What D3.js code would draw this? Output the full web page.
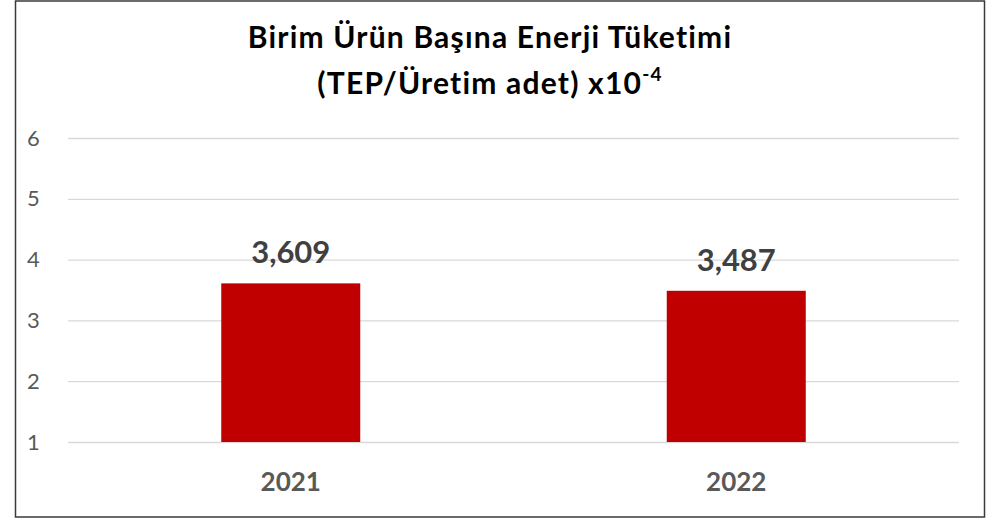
<!DOCTYPE html>
<html>
<head>
<meta charset="utf-8">
<script src="https://cdn.jsdelivr.net/npm/d3@7"></script>
<style>
  body { margin: 0; background: #fff; }
  svg { display: block; font-family: Lato, "Open Sans", sans-serif; }
</style>
</head>
<body>
<div id="chart"></div>
<script>
// data
const years = ['2021', '2022']
const values = [3.609, 3.487]
const valueLabels = ['3,609', '3,487']
const yTicks = [1, 2, 3, 4, 5, 6]

const width = 987, height = 519
const margin = {top: 138, right: 28, bottom: 77, left: 68}

const svg = d3.select('#chart')
  .append('svg')
  .attr('width', width)
  .attr('height', height)

// frame
svg.append('rect')
  .attr('x', 15.5)
  .attr('y', 1)
  .attr('width', 969)
  .attr('height', 516)
  .attr('fill', '#fff')
  .attr('stroke', '#3a3a3a')
  .attr('stroke-width', 1.5)

const x = d3.scaleBand()
  .domain(years)
  .range([margin.left, width - margin.right])
  .paddingInner(0.688)
  .paddingOuter(0.344)

const y = d3.scaleLinear()
  .domain([1, 6])
  .range([height - margin.bottom, margin.top])

// gridlines + tick labels
const yAxis = d3.axisLeft(y)
  .tickValues(yTicks)
  .tickSize(-(width - margin.right - margin.left))
  .tickFormat(d3.format('d'))

svg.append('g')
  .attr('transform', `translate(${margin.left},0)`)
  .call(yAxis)
  .call(g => g.select('.domain').remove())
  .call(g => g.selectAll('.tick line').attr('stroke', '#d9d9d9').attr('stroke-width', 1.3))
  .call(g => g.selectAll('.tick text')
    .attr('fill', '#595959')
    .attr('font-size', 22)
    .attr('font-family', 'Lato, sans-serif')
    .attr('text-anchor', 'start')
    .attr('x', -41))

// bars
svg.selectAll('rect.bar')
  .data(values)
  .enter()
  .append('rect')
  .attr('class', 'bar')
  .attr('x', (d, i) => x(years[i]))
  .attr('y', d => y(d))
  .attr('width', x.bandwidth())
  .attr('height', d => y(1) - y(d))
  .attr('fill', '#c00000')

// value labels
svg.selectAll('text.val')
  .data(values)
  .enter()
  .append('text')
  .attr('class', 'val')
  .attr('x', (d, i) => x(years[i]) + x.bandwidth() / 2)
  .attr('y', d => y(d) - 20)
  .attr('text-anchor', 'middle')
  .attr('font-size', 31)
  .attr('font-weight', 'bold')
  .attr('fill', '#404040')
  .text((d, i) => valueLabels[i])

// category labels
svg.selectAll('text.cat')
  .data(years)
  .enter()
  .append('text')
  .attr('class', 'cat')
  .attr('x', d => x(d) + x.bandwidth() / 2)
  .attr('y', 491)
  .attr('text-anchor', 'middle')
  .attr('font-size', 26)
  .attr('font-weight', 'bold')
  .attr('fill', '#595959')
  .text(d => d)

// title
const title = svg.append('text')
  .attr('text-anchor', 'middle')
  .attr('font-size', 30)
  .attr('font-weight', 'bold')
  .attr('letter-spacing', 1.2)
  .attr('fill', '#000')

title.append('tspan')
  .attr('x', 490)
  .attr('y', 48)
  .text('Birim Ürün Başına Enerji Tüketimi')

title.append('tspan')
  .attr('x', 490)
  .attr('y', 94)
  .text('(TEP/Üretim adet) x10')
  .append('tspan')
  .attr('dy', -13)
  .attr('font-size', 19)
  .text('-4')
</script>
</body>
</html>
